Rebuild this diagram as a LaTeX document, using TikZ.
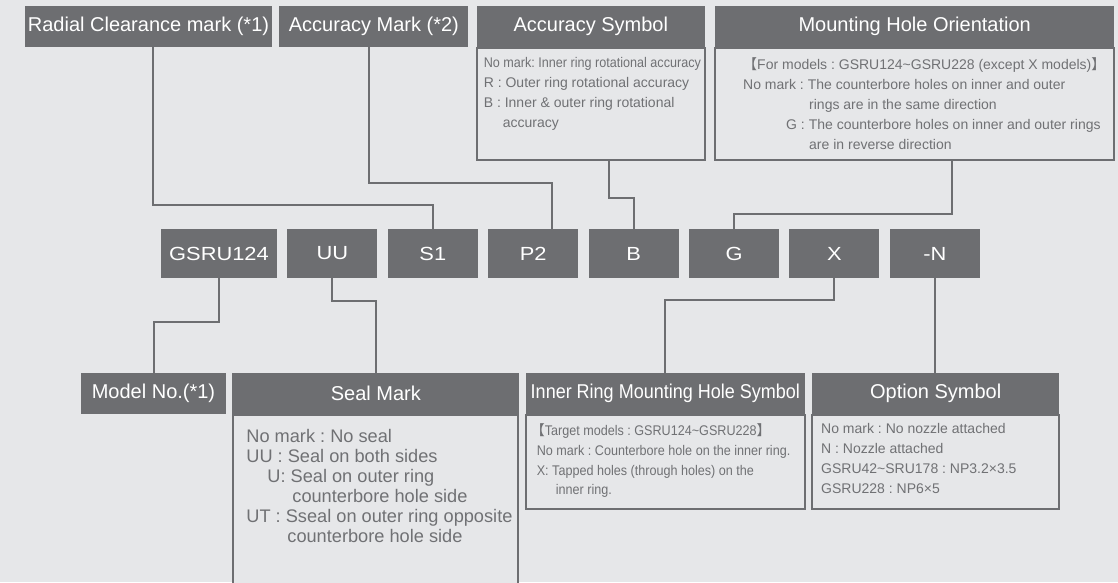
\documentclass[tikz,border=0pt]{standalone}
\usepackage{fontspec}
\setmainfont{Liberation Sans}
\newfontfamily\condfont[FakeStretch=0.9]{Liberation Sans}
\newfontfamily\widefont[FakeStretch=1.15]{Liberation Sans}
\newfontfamily\cjkfont{Noto Sans CJK SC}
\usepackage{tikz}
\usetikzlibrary{positioning}
\definecolor{BoxGray}{RGB}{109,110,113}
\definecolor{PanelBg}{RGB}{230,231,233}
\definecolor{TextGray}{RGB}{112,113,116}
\newcommand{\openbr}{{\cjkfont 【}}
\newcommand{\closebr}{{\cjkfont 】}}
\frenchspacing

\begin{document}
\begin{tikzpicture}[
  x=1pt, y=-1pt,
  hdr/.style={fill=BoxGray, text=white, inner sep=0pt, minimum height=41pt,
              font=\fontsize{20}{24}\selectfont},
  codebox/.style={fill=BoxGray, text=white, inner sep=0pt, minimum width=90pt,
                  minimum height=49pt, font=\widefont\fontsize{19}{23}\selectfont},
  panel/.style={draw=BoxGray, line width=2pt, fill=PanelBg, text=TextGray,
                inner sep=0pt, anchor=north},
  link/.style={draw=BoxGray, line width=2pt},
]
\clip (0,0) rectangle (1118,582);
\fill[PanelBg] (0,0) rectangle (1118,582);

% top row of headers
\node[hdr, minimum width=247pt] (radial) at (148.5,26.5) {Radial Clearance mark (*1)};
\node[hdr, minimum width=189pt, right=7pt of radial] (accmark) {Accuracy Mark (*2)};
\node[hdr, minimum width=228pt, right=8pt of accmark] (accsym) {Accuracy Symbol};
\node[hdr, minimum width=399pt, right=10pt of accsym] (mount) {Mounting Hole Orientation};

\node[panel, font=\fontsize{14}{20}\selectfont] (accbody) at (accsym.south)
  {\parbox[c][112pt][t]{228pt}{\vspace*{5pt}\raggedright\leftskip=7pt
   {\condfont\strut No mark: Inner ring rotational accuracy}\\
   R : Outer ring rotational accuracy\\
   B : Inner \& outer ring rotational\\
   \hspace*{19pt}accuracy}};
\node[panel, font=\fontsize{14}{20}\selectfont] (mountbody) at (mount.south)
  {\parbox[c][112pt][t]{399pt}{\vspace*{7pt}\raggedright\leftskip=28pt
   \strut\openbr For models : GSRU124\textasciitilde GSRU228 (except X models)\closebr\\
   No mark : The counterbore holes on inner and outer\\
   \hspace*{66pt}rings are in the same direction\\
   \hspace*{43pt}G : The counterbore holes on inner and outer rings\\
   \hspace*{66pt}are in reverse direction}};

% part number
\node[codebox, minimum width=116pt] (gsru) at (219,253.5) {GSRU124};
\node[codebox, right=10pt of gsru] (uu) {UU};
\node[codebox, right=10pt of uu] (s1) {S1};
\node[codebox, right=10pt of s1] (p2) {P2};
\node[codebox, right=10pt of p2] (bsym) {B};
\node[codebox, right=10pt of bsym] (gsym) {G};
\node[codebox, right=10pt of gsym] (xsym) {X};
\node[codebox, right=10pt of xsym] (nsym) {-N};

% bottom row
\node[hdr, minimum width=145pt] (model) at (153.5,393.5) {Model No.(*1)};
\node[hdr, minimum width=287pt, right=6pt of model] (seal) {Seal Mark};
\node[hdr, minimum width=279pt, right=6pt of seal,
      font=\condfont\fontsize{20}{24}\selectfont] (inner) {Inner Ring Mounting Hole Symbol};
\node[hdr, minimum width=247pt, right=7pt of inner] (option) {Option Symbol};

\node[panel, font=\fontsize{18.2}{20}\selectfont] (sealbody) at (seal.south)
  {\parbox[c][180pt][t]{285pt}{\vspace*{13.6pt}\raggedright\leftskip=13pt
   \strut No mark : No seal\\
   UU : Seal on both sides\\
   \hspace*{21pt}U: Seal on outer ring\\
   \hspace*{46pt}counterbore hole side\\
   UT : Sseal on outer ring opposite\\
   \hspace*{41pt}counterbore hole side}};
\node[panel, font=\condfont\fontsize{14}{19.6}\selectfont] (innerbody) at (inner.south)
  {\parbox[c][94pt][t]{279pt}{\vspace*{7pt}\raggedright\leftskip=11pt
   \strut\hspace*{-6pt}\openbr Target models : GSRU124\textasciitilde GSRU228\closebr\\
   No mark : Counterbore hole on the inner ring.\\
   X: Tapped holes (through holes) on the\\
   \hspace*{19pt}inner ring.}};
\node[panel, font=\fontsize{14}{20}\selectfont] (optbody) at (option.south)
  {\parbox[c][94pt][t]{247pt}{\vspace*{4pt}\raggedright\leftskip=9pt
   \strut No mark : No nozzle attached\\
   N : Nozzle attached\\
   GSRU42\textasciitilde SRU178 : NP3.2×3.5\\
   GSRU228 : NP6×5}};

\draw[link] ([xshift=4.5pt]radial.south) -- ++(0,158) -| (s1.north);
\draw[link] ([xshift=-4.5pt]accmark.south) -- ++(0,136) -| ([xshift=19pt]p2.north);
\draw[link] ([xshift=18pt]accbody.south) -- ++(0,37) -| (bsym.north);
\draw[link] ([xshift=37.5pt]mountbody.south) -- ++(0,53) -| (gsym.north);
\draw[link] (gsru.south) -- ++(0,44) -| (model.north);
\draw[link] (uu.south) -- ++(0,23) -| (seal.north);
\draw[link] (xsym.south) -- ++(0,22) -| (inner.north);
\draw[link] (nsym.south) -- (nsym.south |- option.north);
\end{tikzpicture}
\end{document}
